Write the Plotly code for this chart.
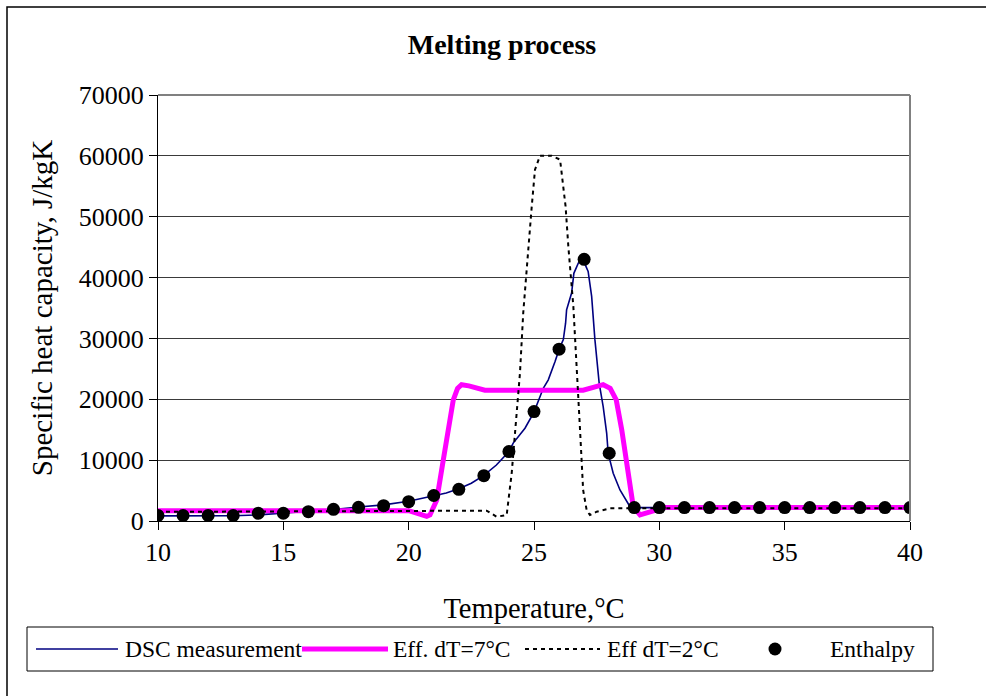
import plotly.graph_objects as go

# DSC measurement curve (temperature in °C, specific heat capacity in J/kgK)
dsc_t = [10, 11, 12, 13, 14, 14.5, 15, 16, 17, 18, 19, 20, 21, 21.5, 22, 22.5, 23, 23.5,
         24, 24.17, 24.64, 25, 25.37, 25.57, 25.84, 26, 26.17, 26.26, 26.3, 26.5, 26.59,
         26.77, 26.95, 27.16, 27.3, 27.43, 27.6, 27.76, 27.9, 27.96, 28.16, 28.43, 28.83,
         28.96, 30, 32, 34, 36, 38, 40]
dsc_cp = [850, 850, 850, 870, 1000, 1150, 1250, 1550, 1900, 2300, 2650, 3250, 4150, 4600,
          5300, 6200, 7500, 9200, 11400, 12800, 15250, 17900, 21800, 23200, 26200, 28200,
          29800, 32500, 34700, 37450, 40700, 42400, 43000, 41000, 36900, 29800, 22650,
          18800, 14400, 11100, 7850, 5100, 2350, 2200, 2200, 2200, 2200, 2200, 2200, 2200]

# Effective heat capacity, melting range dT = 7 °C
eff7_t = [10, 20.0, 20.32, 20.72, 20.85, 21.12, 21.38, 21.58, 21.78, 21.95, 22.11, 22.4,
          23.04, 26.96, 27.4, 27.76, 28.04, 28.28, 28.5, 28.7, 28.85, 28.96, 29.23, 29.89,
          30.2, 40]
eff7_cp = [1700, 1700, 1300, 750, 990, 3450, 10000, 15500, 19900, 21800, 22400, 22200,
           21500, 21500, 22000, 22400, 21800, 19900, 15000, 10000, 5500, 2350, 1000, 1800,
           2200, 2200]

# Effective heat capacity, melting range dT = 2 °C
eff2_t = [10, 23.11, 23.51, 23.91, 24.11, 24.24, 24.44, 24.57, 24.77, 24.91, 25.04, 25.24,
          25.7, 26.04, 26.26, 26.37, 26.57, 26.7, 26.83, 26.96, 27.1, 27.23, 27.5, 28.03, 40]
eff2_cp = [1500, 1700, 700, 990, 7850, 14970, 24300, 34160, 45110, 51690, 57730, 60030,
           60030, 59380, 51690, 45110, 35250, 24300, 15510, 5100, 1800, 990, 1530, 2090, 2100]

# Heat capacity derived from the enthalpy curve, one value per degree
enth_t = list(range(10, 41))
enth_cp = [900, 900, 900, 900, 1270, 1270, 1530, 1920, 2250, 2520, 3170, 4190, 5210, 7450,
           11400, 17980, 28240, 43000, 11130, 2200, 2200, 2200, 2200, 2200, 2200, 2200,
           2200, 2200, 2200, 2200, 2200]

x_ticks = [10, 15, 20, 25, 30, 35, 40]
y_ticks = [0, 10000, 20000, 30000, 40000, 50000, 60000, 70000]

FONT = "Liberation Serif"

# Series styling shared by the plotted traces and the legend box below the chart
series = [
    dict(name="DSC measurement", x=dsc_t, y=dsc_cp, mode="lines",
         line=dict(color="#000080", width=1.6)),
    dict(name="Eff. dT=7°C", x=eff7_t, y=eff7_cp, mode="lines",
         line=dict(color="#FF00FF", width=5)),
    dict(name="Eff dT=2°C", x=eff2_t, y=eff2_cp, mode="lines",
         line=dict(color="black", width=2, dash="4px,4px")),
    dict(name="Enthalpy", x=enth_t, y=enth_cp, mode="markers",
         marker=dict(color="black", size=13)),
]

fig = go.Figure()
for s in series:
    fig.add_trace(go.Scatter(showlegend=False, **s))

W, H = 986, 696
L, R, T, B = 158, 76, 95, 175
pw, ph = W - L - R, H - T - B


def px(xpix):
    return (xpix - L) / pw


def py(ypix):
    return (T + ph - ypix) / ph


fig.update_layout(
    width=W, height=H,
    margin=dict(l=L, r=R, t=T, b=B),
    paper_bgcolor="white", plot_bgcolor="white",
    font=dict(family=FONT, color="black", size=24),
    title=dict(text="<b>Melting process</b>", x=502 / W, xanchor="center",
               y=1 - 44 / H, yanchor="middle", font=dict(size=28, family=FONT)),
    xaxis=dict(range=[10, 40], tickvals=x_ticks, ticks="outside", ticklen=8,
               tickcolor="black", showline=True, linecolor="black", linewidth=1,
               showgrid=False, zeroline=False, tickfont=dict(size=26),
               title=dict(text="Temperature,°C", font=dict(size=28.5), standoff=31)),
    yaxis=dict(range=[0, 70000], tickvals=y_ticks, tickformat="d", ticks="outside",
               ticklen=8, tickcolor="black", showline=True, linecolor="black",
               linewidth=1, showgrid=True, gridcolor="#3a3a3a", gridwidth=1,
               zeroline=False, tickfont=dict(size=26),
               title=dict(text="Specific heat capacity, J/kgK", font=dict(size=29),
                          standoff=17)),
    showlegend=False,
)

# Grey frame on the top and right of the plotting area
fig.add_shape(type="line", xref="paper", yref="paper", x0=0, x1=1, y0=1, y1=1,
              line=dict(color="#808080", width=2))
fig.add_shape(type="line", xref="paper", yref="paper", x0=1, x1=1, y0=0, y1=1,
              line=dict(color="#808080", width=2))
# Outer chart frame
fig.add_shape(type="rect", xref="paper", yref="paper",
              x0=px(7), x1=px(W + 20), y0=py(7), y1=py(H + 20),
              line=dict(color="black", width=1.5), fillcolor="rgba(0,0,0,0)", layer="below")

# Legend box: one row with a key and a label per series
fig.add_shape(type="rect", xref="paper", yref="paper",
              x0=px(27), x1=px(933), y0=py(627), y1=py(671),
              line=dict(color="black", width=1), fillcolor="white", layer="above")
key_spans = [(36, 118), (302, 388), (525, 600), (775, 775)]
label_x = [123, 391, 605, 828]
row_y = 649
for s, (k0, k1), lx in zip(series, key_spans, label_x):
    if s["mode"] == "lines":
        ln = s["line"]
        fig.add_shape(type="line", xref="paper", yref="paper",
                      x0=px(k0), x1=px(k1), y0=py(row_y), y1=py(row_y),
                      line=dict(color=ln["color"], width=ln["width"],
                                dash=ln.get("dash", "solid")), layer="above")
    else:
        r = s["marker"]["size"] / 2
        fig.add_shape(type="circle", xref="paper", yref="paper",
                      x0=px(k0 - r), x1=px(k0 + r), y0=py(row_y - r), y1=py(row_y + r),
                      line=dict(color="black", width=0), fillcolor="black", layer="above")
    fig.add_annotation(xref="paper", yref="paper", x=px(lx), y=py(row_y),
                       xanchor="left", yanchor="middle", showarrow=False,
                       text=s["name"], font=dict(size=23.5, family=FONT, color="black"))

fig.write_html("out.html")
